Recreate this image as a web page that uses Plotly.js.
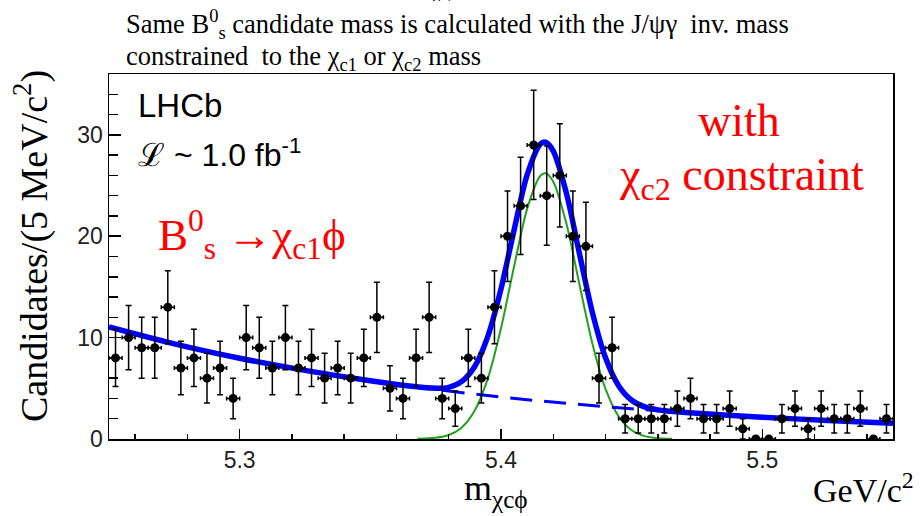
<!DOCTYPE html>
<html>
<head>
<meta charset="utf-8">
<script src="https://cdn.plot.ly/plotly-3.0.1.min.js"></script>
<style>html,body{margin:0;padding:0;background:#fff;}#chart{width:920px;height:516px;}</style>
</head>
<body>
<div id="chart"></div>
<script>
// Bin centres (5 MeV bins) of the m(chi_c phi) histogram, GeV/c^2
const binCenters = [5.2525,5.2575,5.2625,5.2675,5.2725,5.2775,5.2825,5.2875,5.2925,5.2975,
  5.3025,5.3075,5.3125,5.3175,5.3225,5.3275,5.3325,5.3375,5.3425,5.3475,
  5.3525,5.3575,5.3625,5.3675,5.3725,5.3775,5.3825,5.3875,5.3925,5.3975,
  5.4025,5.4075,5.4125,5.4175,5.4225,5.4275,5.4325,5.4375,5.4425,5.4475,
  5.4525,5.4575,5.4625,5.4675,5.4725,5.4775,5.4825,5.4875,5.4925,5.4975,
  5.5025,5.5075,5.5125,5.5175,5.5225,5.5275,5.5325,5.5375,5.5425,5.5475];
// Candidates per bin
const counts = [8,10,9,9,13,7,8,6,7,4,
  10,9,7,10,7,8,6,7,6,8,
  12,5,4,8,12,4,3,8,6,13,
  20,23,29,24,26,20,19,6,9,2,
  2,2,2,3,4,2,2,3,1,0,
  0,2,3,1,3,2,2,3,0,2];
// Background component (dashed blue)
const bgX = [5.25,5.275,5.30,5.325,5.35,5.375,5.40,5.425,5.45,5.475,5.50,5.525,5.55];
const bgY = [11.06,9.39,7.97,6.77,5.74,4.88,4.14,3.52,2.98,2.53,2.15,1.83,1.55];
// Total fit (solid blue)
const totX = [5.25,5.275,5.30,5.325,5.35,5.365,5.375,5.38,5.385,5.39,5.395,5.40,5.405,5.41,5.415,5.417,5.42,5.425,5.43,5.435,5.44,5.445,5.45,5.455,5.46,5.465,5.475,5.50,5.525,5.55];
const totY = [11.06,9.39,7.97,6.77,5.74,5.22,5.00,5.10,5.68,7.18,10.15,14.80,20.61,26.04,29.07,29.27,28.40,24.28,18.30,12.44,8.01,5.26,3.82,3.16,2.87,2.73,2.53,2.15,1.83,1.55];
// Signal component (green)
const sigX = [5.368,5.375,5.38,5.385,5.39,5.395,5.40,5.405,5.41,5.415,5.417,5.42,5.425,5.43,5.435,5.44,5.445,5.45,5.455,5.46,5.4655];
const sigY = [0.02,0.12,0.39,1.14,2.83,6.01,10.92,17.01,22.70,25.94,26.2,25.38,21.27,15.27,9.38,4.94,2.23,0.86,0.28,0.08,0.02];
const xTickVals = [5.3,5.4,5.5];
const xTickText = ['5.3','5.4','5.5'];
const yTickVals = [0,10,20,30];
const yTickText = ['0','10','20','30'];

const errs = counts.map(c => Math.sqrt(c));
const serif = '"Liberation Serif", "Times New Roman", Times, serif';
const sans = '"Liberation Sans", Arial, Helvetica, sans-serif';

const traces = [
  {x: sigX, y: sigY, type: 'scatter', mode: 'lines', line: {color: '#22a022', width: 2, shape: 'spline', smoothing: 0.8}, hoverinfo: 'skip'},
  {x: bgX, y: bgY, type: 'scatter', mode: 'lines', line: {color: '#0000ff', width: 3, dash: '22px,12px', shape: 'spline'}, hoverinfo: 'skip'},
  {x: totX, y: totY, type: 'scatter', mode: 'lines', line: {color: '#0000ff', width: 5.5, shape: 'spline', smoothing: 0.8}, hoverinfo: 'skip'},
  {x: binCenters, y: counts, type: 'scatter', mode: 'markers',
   marker: {color: '#000', size: 9},
   error_y: {type: 'data', array: errs, visible: true, color: '#000', thickness: 1.5, width: 3},
   error_x: {type: 'constant', value: 0.0025, visible: true, color: '#000', thickness: 1.5, width: 2}}
];

const px = p => (p - 109) / 784;
const py = p => (439 - p) / 365;

const annotations = [
  {text: 'Same B<sup>0</sup><sub>s</sub> candidate mass is calculated with the J/ψγ  inv. mass', x: px(124), y: py(24), xanchor: 'left', yanchor: 'middle', font: {family: serif, size: 26.5, color: '#000'}},
  {text: 'constrained  to the χ<sub>c1</sub> or χ<sub>c2</sub> mass', x: px(124), y: py(58), xanchor: 'left', yanchor: 'middle', font: {family: serif, size: 26.5, color: '#000'}},
  {text: 'χ<sub>c</sub>ϕ', x: px(443), y: py(4), xanchor: 'center', yanchor: 'bottom', font: {family: serif, size: 16, color: '#000'}},
  {text: 'LHCb', x: px(136), y: py(106), xanchor: 'left', yanchor: 'middle', font: {family: sans, size: 33, color: '#000'}},
  {text: 'ℒ ~ 1.0 fb<sup>-1</sup>', x: px(136), y: py(153), xanchor: 'left', yanchor: 'middle', font: {family: sans, size: 32, color: '#000'}},
  {text: 'B<sup>0</sup><sub>s</sub> →χ<sub>c1</sub>ϕ', x: px(156), y: py(234), xanchor: 'left', yanchor: 'middle', font: {family: serif, size: 45, color: '#ff0000'}},
  {text: 'with', x: px(739), y: py(120), xanchor: 'center', yanchor: 'middle', font: {family: serif, size: 46, color: '#ff0000'}},
  {text: 'χ<sub>c2</sub> constraint', x: px(741), y: py(178), xanchor: 'center', yanchor: 'middle', font: {family: serif, size: 46, color: '#ff0000'}},
  {text: 'Candidates/(5 MeV/c<sup>2</sup>)', x: px(32), y: py(246), xanchor: 'center', yanchor: 'middle', textangle: -90, font: {family: serif, size: 38, color: '#000'}},
  {text: 'm<sub>χcϕ</sub>', x: px(496), y: py(490), xanchor: 'center', yanchor: 'middle', font: {family: serif, size: 36, color: '#000'}},
  {text: 'GeV/c<sup>2</sup>', x: px(916), y: py(488), xanchor: 'right', yanchor: 'middle', font: {family: serif, size: 34, color: '#000'}}
].map(a => Object.assign({xref: 'paper', yref: 'paper', showarrow: false}, a));

const layout = {
  width: 920, height: 516,
  margin: {l: 109, r: 27, t: 74, b: 77},
  paper_bgcolor: '#fff', plot_bgcolor: '#fff',
  showlegend: false,
  xaxis: {range: [5.25, 5.55], tickvals: xTickVals, ticktext: xTickText,
    ticks: 'inside', ticklen: 10, tickwidth: 1.5, tickcolor: '#000',
    minor: {dtick: 0.02, tick0: 5.3, ticks: 'inside', ticklen: 5, tickwidth: 1.5, tickcolor: '#000', showgrid: false},
    showline: true, mirror: true, linecolor: '#000', linewidth: 1.5,
    showgrid: false, zeroline: false,
    tickfont: {family: sans, size: 23, color: '#222'}},
  yaxis: {range: [0, 36], tickvals: yTickVals, ticktext: yTickText,
    ticks: 'inside', ticklen: 12, tickwidth: 1.5, tickcolor: '#000',
    minor: {dtick: 2, tick0: 0, ticks: 'inside', ticklen: 9, tickwidth: 1.5, tickcolor: '#000', showgrid: false},
    showline: true, mirror: true, linecolor: '#000', linewidth: 1.5,
    showgrid: false, zeroline: false,
    tickfont: {family: sans, size: 23, color: '#222'}},
  annotations: annotations
};

Plotly.newPlot('chart', traces, layout, {staticPlot: true, displayModeBar: false});
</script>
</body>
</html>
